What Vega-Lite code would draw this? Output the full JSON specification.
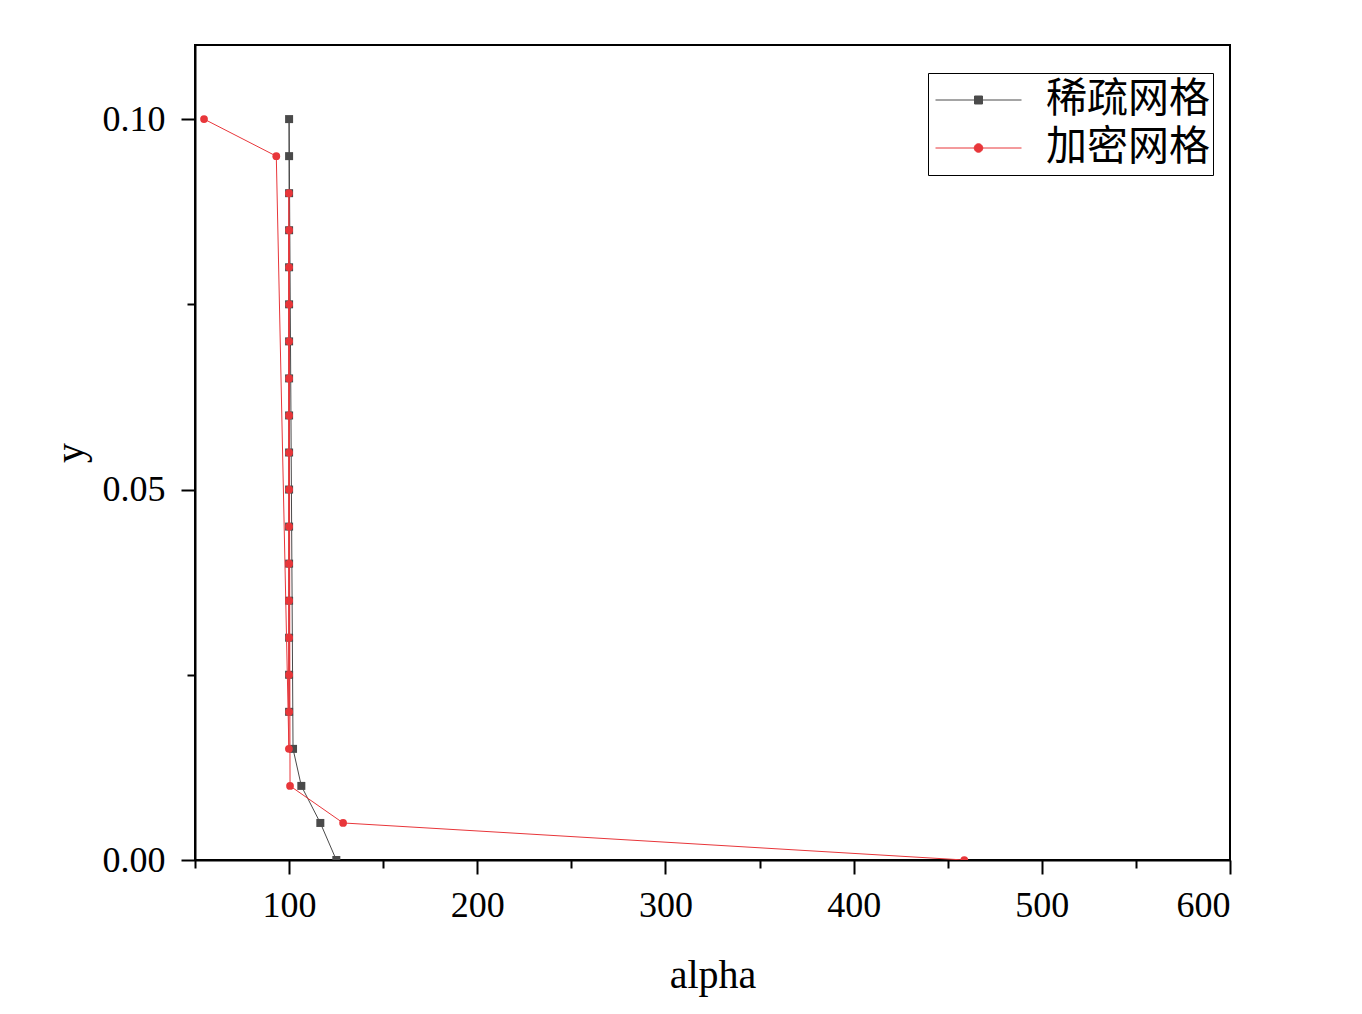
{
  "$schema": "https://vega.github.io/schema/vega-lite/v6.json",
  "autosize": {"type": "none"},
  "width": 1035,
  "height": 815,
  "padding": {"left": 195, "top": 45, "right": 132, "bottom": 154},
  "background": "white",
  "config": {
    "view": {"stroke": "black", "strokeWidth": 2},
    "axis": {
      "grid": false,
      "domainColor": "black",
      "domainWidth": 2,
      "tickColor": "black",
      "tickWidth": 2,
      "labelFont": "Liberation Serif",
      "labelFontSize": 36,
      "labelColor": "black",
      "titleFont": "Liberation Serif",
      "titleFontSize": 40,
      "titleFontWeight": "normal",
      "titleColor": "black"
    },
    "legend": {
      "orient": "none",
      "legendX": 733,
      "legendY": 28,
      "strokeColor": "black",
      "strokeWidth": 1,
      "fillColor": "white",
      "padding": 3,
      "symbolOffset": 4,
      "labelFont": "Noto Sans CJK SC",
      "labelFontSize": 41,
      "labelColor": "black",
      "labelOffset": 24,
      "labelLimit": 400,
      "symbolSize": 7396,
      "clipHeight": 48,
      "rowPadding": 0,
      "symbolStrokeWidth": 1,
      "symbolOpacity": 1
    }
  },
  "data": {
    "values": [
      {"series": "稀疏网格", "alpha": 125.1, "y": 0.0},
      {"series": "稀疏网格", "alpha": 116.6, "y": 0.005},
      {"series": "稀疏网格", "alpha": 106.5, "y": 0.01},
      {"series": "稀疏网格", "alpha": 102.1, "y": 0.015},
      {"series": "稀疏网格", "alpha": 100.0, "y": 0.02},
      {"series": "稀疏网格", "alpha": 100.0, "y": 0.025},
      {"series": "稀疏网格", "alpha": 100.0, "y": 0.03},
      {"series": "稀疏网格", "alpha": 100.0, "y": 0.035},
      {"series": "稀疏网格", "alpha": 100.0, "y": 0.04},
      {"series": "稀疏网格", "alpha": 100.0, "y": 0.045},
      {"series": "稀疏网格", "alpha": 100.0, "y": 0.05},
      {"series": "稀疏网格", "alpha": 100.0, "y": 0.055},
      {"series": "稀疏网格", "alpha": 100.0, "y": 0.06},
      {"series": "稀疏网格", "alpha": 100.0, "y": 0.065},
      {"series": "稀疏网格", "alpha": 100.0, "y": 0.07},
      {"series": "稀疏网格", "alpha": 100.0, "y": 0.075},
      {"series": "稀疏网格", "alpha": 100.0, "y": 0.08},
      {"series": "稀疏网格", "alpha": 100.0, "y": 0.085},
      {"series": "稀疏网格", "alpha": 100.0, "y": 0.09},
      {"series": "稀疏网格", "alpha": 100.0, "y": 0.095},
      {"series": "稀疏网格", "alpha": 100.0, "y": 0.1},
      {"series": "加密网格", "alpha": 458.8, "y": 0.0},
      {"series": "加密网格", "alpha": 128.7, "y": 0.005},
      {"series": "加密网格", "alpha": 100.5, "y": 0.01},
      {"series": "加密网格", "alpha": 99.9, "y": 0.015},
      {"series": "加密网格", "alpha": 100.0, "y": 0.02},
      {"series": "加密网格", "alpha": 100.0, "y": 0.025},
      {"series": "加密网格", "alpha": 100.0, "y": 0.03},
      {"series": "加密网格", "alpha": 100.0, "y": 0.035},
      {"series": "加密网格", "alpha": 100.0, "y": 0.04},
      {"series": "加密网格", "alpha": 100.0, "y": 0.045},
      {"series": "加密网格", "alpha": 100.0, "y": 0.05},
      {"series": "加密网格", "alpha": 100.0, "y": 0.055},
      {"series": "加密网格", "alpha": 100.0, "y": 0.06},
      {"series": "加密网格", "alpha": 100.0, "y": 0.065},
      {"series": "加密网格", "alpha": 100.0, "y": 0.07},
      {"series": "加密网格", "alpha": 100.0, "y": 0.075},
      {"series": "加密网格", "alpha": 100.0, "y": 0.08},
      {"series": "加密网格", "alpha": 100.0, "y": 0.085},
      {"series": "加密网格", "alpha": 99.9, "y": 0.09},
      {"series": "加密网格", "alpha": 93.2, "y": 0.095},
      {"series": "加密网格", "alpha": 54.8, "y": 0.1}
    ]
  },
  "encoding": {
    "x": {
      "field": "alpha", "type": "quantitative",
      "scale": {"domain": [50, 600], "nice": false, "zero": false},
      "axis": {
        "title": "alpha",
        "values": [50, 100, 150, 200, 250, 300, 350, 400, 450, 500, 550, 600],
        "labelExpr": "datum.value % 100 === 0 ? datum.label : ''",
        "tickSize": {"condition": {"test": "datum.value % 100 === 0", "value": 14}, "value": 8},
        "labelPadding": 14,
        "titlePadding": 32
      }
    },
    "y": {
      "field": "y", "type": "quantitative",
      "scale": {"domain": [0, 0.11], "nice": false, "zero": false},
      "axis": {
        "title": "y",
        "values": [0, 0.025, 0.05, 0.075, 0.1],
        "format": ".2f",
        "labelExpr": "round(datum.value*1000) % 50 === 0 ? datum.label : ''",
        "tickSize": {"condition": {"test": "round(datum.value*1000) % 50 === 0", "value": 14}, "value": 8},
        "labelPadding": 16,
        "titlePadding": 12
      }
    }
  },
  "layer": [
    {
      "mark": {"type": "point", "filled": true, "strokeWidth": 1, "opacity": 0},
      "encoding": {
        "fill": {
          "field": "series", "type": "nominal",
          "scale": {"domain": ["稀疏网格", "加密网格"], "range": ["#4a4a4a", "#e8363a"]},
          "legend": {"title": null}
        },
        "stroke": {
          "field": "series", "type": "nominal",
          "scale": {"domain": ["稀疏网格", "加密网格"], "range": ["#4a4a4a", "#e8363a"]},
          "legend": {"title": null}
        },
        "shape": {
          "field": "series", "type": "nominal",
          "scale": {
            "domain": ["稀疏网格", "加密网格"],
            "range": [
              "M-1,0H1M-0.093,-0.093H0.093V0.093H-0.093Z",
              "M-1,0H1M0.1,0A0.1,0.1,0,1,1,-0.1,0A0.1,0.1,0,1,1,0.1,0Z"
            ]
          },
          "legend": {"title": null}
        }
      }
    },
    {
      "transform": [{"filter": "datum.series === '稀疏网格'"}],
      "mark": {"type": "line", "color": "#4a4a4a", "strokeWidth": 1, "clip": true}
    },
    {
      "transform": [{"filter": "datum.series === '稀疏网格'"}],
      "mark": {"type": "point", "shape": "square", "filled": true, "color": "#4a4a4a", "size": 64, "opacity": 1, "clip": true}
    },
    {
      "transform": [{"filter": "datum.series === '加密网格'"}],
      "mark": {"type": "line", "color": "#e8363a", "strokeWidth": 1, "clip": true}
    },
    {
      "transform": [{"filter": "datum.series === '加密网格'"}],
      "mark": {"type": "point", "shape": "circle", "filled": true, "color": "#e8363a", "size": 60, "opacity": 1, "clip": true}
    }
  ]
}
